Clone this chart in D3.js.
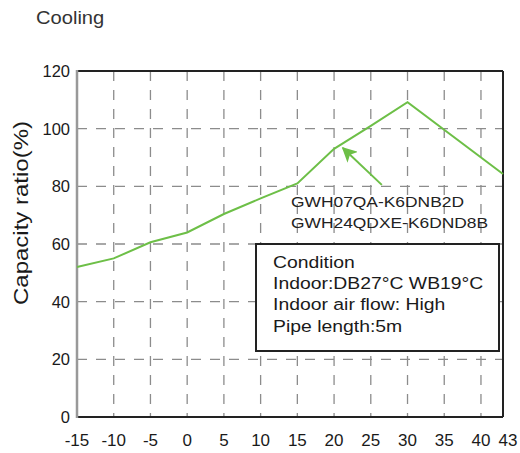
<!DOCTYPE html>
<html lang="en">
  <head>
    <meta charset="utf-8">
    <title>Cooling capacity</title>
    <style>
      body { margin: 0; background: #fff; }
      svg text { font-family: "Liberation Sans", Arial, sans-serif; fill: #1a1a1a; }
      .grid line { stroke: #8c8c8c; stroke-width: 1.3px; stroke-dasharray: 10,9; }
      .tick-label { font-size: 16.5px; }
    </style>
  </head>
  <body>
    <svg id="chart"></svg>
    <script src="https://cdn.jsdelivr.net/npm/d3@7"></script>
    <script>

      // outdoor temperature (°C) and capacity ratio (%)
      var temps    = [-15, -10, -5, 0, 5, 10, 15, 20, 25, 30, 43];
      var capacity = [52, 55, 60.6, 64, 70.4, 75.8, 81, 93, 101, 109.2, 84.3];

      var xTicks = [-15, -10, -5, 0, 5, 10, 15, 20, 25, 30, 35, 40, 43];
      var yTicks = [0, 20, 40, 60, 80, 100, 120];

      var models = ["GWH07QA-K6DNB2D", "GWH24QDXE-K6DND8B"];
      var conditions = ["Condition", "Indoor:DB27°C WB19°C", "Indoor air flow: High", "Pipe length:5m"];
      // arrow from the model label to the curve, in data units
      var arrowFrom = [26.5, 80.5],
          arrowTo   = [21.2, 93.3];

      var width = 520, height = 453;
      var margin = {top: 71, right: 17, bottom: 36, left: 77};
      var green = "#6dbf47";

      var svg = d3.select("#chart")
          .attr("width", width)
          .attr("height", height);

      var x = d3.scaleLinear()
          .domain([-15, 43])
          .range([margin.left, width - margin.right]);

      var y = d3.scaleLinear()
          .domain([0, 120])
          .range([height - margin.bottom, margin.top]);

      svg.append("defs").append("marker")
          .attr("id", "head")
          .attr("viewBox", "0 0 10 10")
          .attr("refX", 9).attr("refY", 5)
          .attr("markerWidth", 7.5).attr("markerHeight", 7.5)
          .attr("markerUnits", "strokeWidth")
          .attr("orient", "auto")
        .append("path")
          .attr("d", "M0,0 L10,5 L0,10 L2.5,5 Z")
          .attr("fill", green);

      // ************** grid *****************
      var grid = svg.append("g").attr("class", "grid");

      grid.selectAll(".v")
          .data(xTicks.filter(function(d) { return d > -15 && d < 43; }))
        .enter().append("line")
          .attr("x1", function(d) { return x(d); })
          .attr("x2", function(d) { return x(d); })
          .attr("y1", y(120))
          .attr("y2", y(0));

      grid.selectAll(".h")
          .data(yTicks.filter(function(d) { return d > 0 && d < 120; }))
        .enter().append("line")
          .attr("x1", x(-15))
          .attr("x2", x(43))
          .attr("y1", function(d) { return y(d); })
          .attr("y2", function(d) { return y(d); });

      // frame
      svg.append("line")
          .attr("x1", x(-15)).attr("x2", x(43))
          .attr("y1", y(120)).attr("y2", y(120))
          .attr("stroke", "#222").attr("stroke-width", 2);
      svg.append("line")
          .attr("x1", x(-15)).attr("x2", x(43))
          .attr("y1", y(0)).attr("y2", y(0))
          .attr("stroke", "#222").attr("stroke-width", 2);
      svg.append("line")
          .attr("x1", x(43)).attr("x2", x(43))
          .attr("y1", y(120)).attr("y2", y(0))
          .attr("stroke", "#222").attr("stroke-width", 2);
      svg.append("line")
          .attr("x1", x(-15)).attr("x2", x(-15))
          .attr("y1", y(120) - 1).attr("y2", y(0) + 1)
          .attr("stroke", "#999").attr("stroke-width", 2.5);

      // ************** axes labels *****************
      svg.selectAll(".ylab")
          .data(yTicks)
        .enter().append("text")
          .attr("class", "tick-label")
          .attr("x", margin.left - 7)
          .attr("y", function(d) { return y(d) + 6; })
          .attr("text-anchor", "end")
          .text(function(d) { return d; });

      svg.selectAll(".xlab")
          .data(xTicks)
        .enter().append("text")
          .attr("class", "tick-label")
          .attr("x", function(d) { return d === 43 ? x(d) + 5 : x(d); })
          .attr("y", height - 7.5)
          .attr("text-anchor", "middle")
          .style("font-size", "17px")
          .text(function(d) { return d; });

      // the original lettering is a little wider than Liberation Sans
      svg.append("text")
          .attr("transform", "translate(28,213) rotate(-90) scale(1.2,1)")
          .attr("text-anchor", "middle")
          .style("font-size", "20px")
          .text("Capacity ratio(%)");

      svg.append("text")
          .attr("transform", "translate(36,23.5) scale(1.06,1)")
          .style("font-size", "19px")
          .style("fill", "#333")
          .text("Cooling");

      // ************** curve *****************
      var line = d3.line()
          .x(function(d, i) { return x(temps[i]); })
          .y(function(d) { return y(d); });

      svg.append("path")
          .datum(capacity)
          .attr("fill", "none")
          .attr("stroke", green)
          .attr("stroke-width", 2)
          .attr("d", line);

      svg.append("line")
          .attr("x1", x(arrowFrom[0])).attr("y1", y(arrowFrom[1]))
          .attr("x2", x(arrowTo[0])).attr("y2", y(arrowTo[1]))
          .attr("stroke", green)
          .attr("stroke-width", 2)
          .attr("marker-end", "url(#head)");

      svg.selectAll(".model")
          .data(models)
        .enter().append("text")
          .attr("transform", function(d, i) {
            return "translate(291," + (207 + i * 21) + ") scale(1.16,1)";
          })
          .style("font-size", "15px")
          .style("fill", "#222")
          .text(function(d) { return d; });

      // ************** condition box *****************
      svg.append("rect")
          .attr("x", 256).attr("y", 244)
          .attr("width", 243).attr("height", 107)
          .attr("fill", "#fff")
          .attr("stroke", "#222")
          .attr("stroke-width", 2);

      svg.selectAll(".cond")
          .data(conditions)
        .enter().append("text")
          .attr("transform", function(d, i) {
            return "translate(273," + (268 + i * 21.2) + ") scale(1.14,1)";
          })
          .style("font-size", "17px")
          .text(function(d) { return d; });

    </script>
  </body>
</html>
